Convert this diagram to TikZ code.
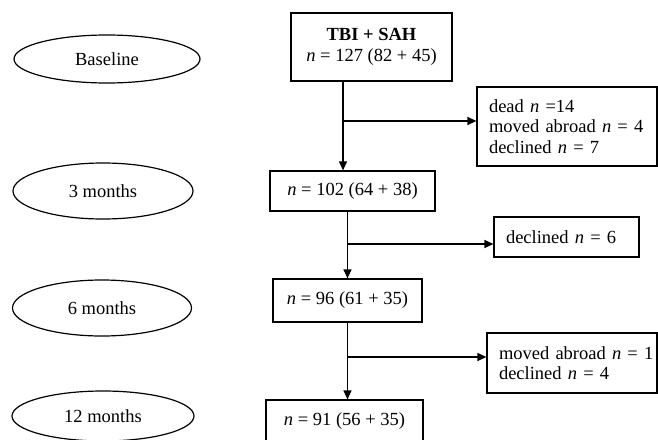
\documentclass[tikz,border=0pt]{standalone}
\usepackage{fontspec}
\setmainfont{Liberation Serif}
\usetikzlibrary{shapes.geometric,arrows.meta,positioning}

\begin{document}
\begin{tikzpicture}[x=1pt,y=-1pt,->,>={Triangle[length=9pt,width=8pt]},
                    line width=1.2pt,font=\fontsize{18.5}{20.5}\selectfont]
  \tikzstyle{stage}=[ellipse,draw=black,inner sep=0pt]
  \tikzstyle{count}=[rectangle,draw=black,inner sep=0pt,align=center]
  \tikzstyle{lost}=[rectangle,draw=black,inner xsep=12pt,align=left]
  \useasboundingbox (0,0) rectangle (658,439);

  \node[stage,minimum width=186pt,minimum height=48pt] (base) at (107,59)  {Baseline};
  \node[stage,minimum width=180pt,minimum height=56pt] (t3)   at (103,191) {3 months};
  \node[stage,minimum width=179pt,minimum height=56pt] (t6)   at (102,308) {6 months};
  \node[stage,minimum width=182pt,minimum height=50pt] (t12)  at (103,416) {12 months};

  \node[count,minimum width=161pt,minimum height=68pt] (tbi) at (371.5,47)
       {\textbf{TBI + SAH}\\\textit{n} = 127 (82 + 45)};
  \node[count,minimum width=165pt,minimum height=40pt] (m3)  at (352.5,191) {\textit{n} = 102 (64 + 38)};
  \node[count,minimum width=149pt,minimum height=43pt] (m6)  at (347.5,300.5) {\textit{n} = 96 (61 + 35)};
  \node[count,minimum width=157pt,minimum height=42pt] (m12) at (344.5,421) {\textit{n} = 91 (56 + 35)};

  \node[lost,text width=156pt,minimum height=79pt] (dead) at (567,126.5)
       {dead \textit{n} =14\\moved abroad \textit{n} = 4\\declined \textit{n} = 7};
  \node[lost,text width=121pt,minimum height=40pt] (dec6) at (566.5,237)
       {declined \textit{n} = 6};
  \node[lost,text width=146pt,minimum height=60pt] (mov1) at (572,363)
       {\mbox{moved abroad \textit{n} = 1}\\declined \textit{n} = 4};

  \coordinate (s1) at (343,121);
  \coordinate (s2) at (346.5,244);
  \coordinate (s3) at (347.5,357);

  \draw ([xshift=-28.5pt]tbi.south) -- ([xshift=-28.5pt]tbi.south |- m3.north);
  \draw (m3.south -| m6.north) -- (m6.north);
  \draw (m6.south) -- (m6.south |- m12.north);
  \draw (s1) -- (s1 -| dead.west);
  \draw (s2) -- (s2 -| dec6.west);
  \draw (s3) -- (s3 -| mov1.west);

\end{tikzpicture}
\end{document}
